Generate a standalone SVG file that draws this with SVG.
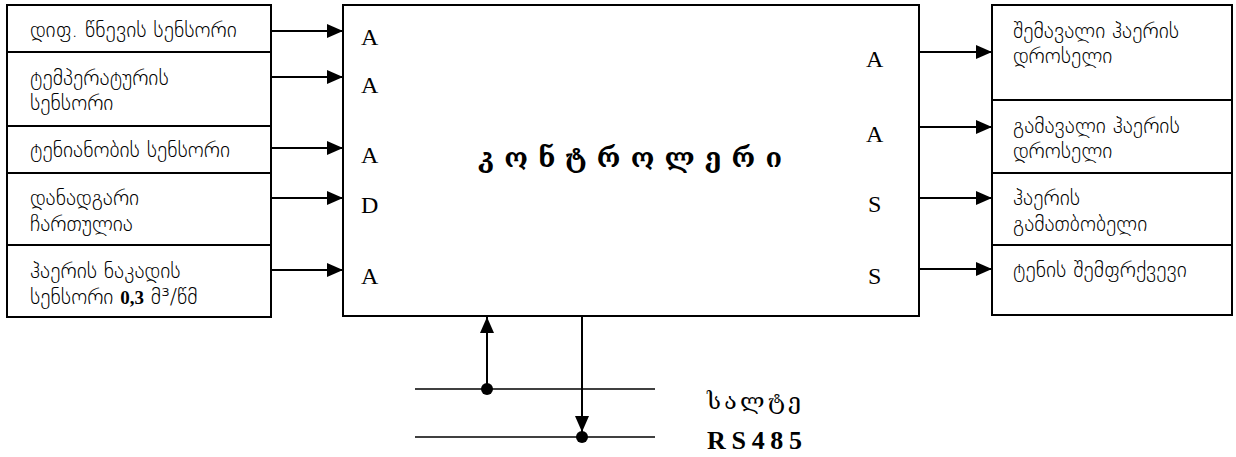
<svg xmlns="http://www.w3.org/2000/svg" width="1236" height="457" viewBox="0 0 1236 457">
  <defs>
    <marker id="arrow" viewBox="0 0 16 14" refX="16" refY="7" markerWidth="16" markerHeight="14" markerUnits="userSpaceOnUse" orient="auto">
      <path d="M0,0 L16,7 L0,14 Z" fill="#000"/>
    </marker>
    <style>
      .box { fill: #fff; stroke: #000; stroke-width: 2; }
      .lbl { font-family: "DejaVu Sans", sans-serif; font-size: 21.5px; font-weight: 200; fill: #000; }
      .num { font-family: "Liberation Serif", serif; font-weight: bold; font-size: 19px; }
      .port { font-family: "Liberation Serif", serif; font-size: 24px; fill: #000; }
      .title { font-family: "DejaVu Serif", "DejaVu Sans", serif; font-size: 27px; font-weight: bold; fill: #000; }
      .bus-name { font-family: "DejaVu Serif", "DejaVu Sans", serif; font-size: 23px; fill: #000; }
      .bus-code { font-family: "Liberation Serif", serif; font-size: 26px; font-weight: bold; fill: #000; }
      .wire { stroke: #000; stroke-width: 2; fill: none; }
      .bus { stroke: #000; stroke-width: 1.5; fill: none; }
    </style>
  </defs>

  <!-- sensor inputs -->
  <g id="in-diffpressure">
    <rect class="box" x="7" y="5" width="264" height="47"/>
    <text class="lbl" x="30" y="37">დიფ. წნევის სენსორი</text>
  </g>
  <g id="in-temperature">
    <rect class="box" x="7" y="52" width="264" height="74"/>
    <text class="lbl" x="30" y="85">ტემპერატურის</text>
    <text class="lbl" x="30" y="110">სენსორი</text>
  </g>
  <g id="in-humidity">
    <rect class="box" x="7" y="126" width="264" height="47"/>
    <text class="lbl" x="30" y="157">ტენიანობის სენსორი</text>
  </g>
  <g id="in-unit-on">
    <rect class="box" x="7" y="173" width="264" height="72"/>
    <text class="lbl" x="30" y="205">დანადგარი</text>
    <text class="lbl" x="30" y="231">ჩართულია</text>
  </g>
  <g id="in-airflow">
    <rect class="box" x="7" y="245" width="264" height="72"/>
    <text class="lbl" x="30" y="278">ჰაერის ნაკადის</text>
    <text class="lbl" x="30" y="304">სენსორი <tspan class="num">0,3</tspan> მ³/წმ</text>
  </g>

  <!-- controller -->
  <g id="controller">
    <rect class="box" x="343" y="5" width="576" height="311"/>
    <text class="port" x="361" y="45">A</text>
    <text class="port" x="361" y="93">A</text>
    <text class="port" x="361" y="163">A</text>
    <text class="port" x="361" y="213">D</text>
    <text class="port" x="361" y="284">A</text>
    <text class="port" x="866" y="67">A</text>
    <text class="port" x="866" y="142">A</text>
    <text class="port" x="868" y="212">S</text>
    <text class="port" x="868" y="284">S</text>
    <text class="title" x="478" y="167" textLength="304" lengthAdjust="spacing">კ ო ნ ტ რ ო ლ ე რ ი</text>
  </g>

  <!-- actuator outputs -->
  <g id="out-supply-damper">
    <rect class="box" x="992" y="5" width="240" height="95"/>
    <text class="lbl" x="1013" y="38">შემავალი ჰაერის</text>
    <text class="lbl" x="1013" y="63">დროსელი</text>
  </g>
  <g id="out-exhaust-damper">
    <rect class="box" x="992" y="100" width="240" height="73"/>
    <text class="lbl" x="1013" y="133">გამავალი ჰაერის</text>
    <text class="lbl" x="1013" y="158">დროსელი</text>
  </g>
  <g id="out-heater">
    <rect class="box" x="992" y="173" width="240" height="72"/>
    <text class="lbl" x="1013" y="205">ჰაერის</text>
    <text class="lbl" x="1013" y="231">გამათბობელი</text>
  </g>
  <g id="out-humidifier">
    <rect class="box" x="992" y="245" width="240" height="70"/>
    <text class="lbl" x="1013" y="277">ტენის შემფრქვევი</text>
  </g>

  <!-- RS485 bus -->
  <g id="bus-rs485">
    <line class="bus" x1="415" y1="389" x2="655" y2="389"/>
    <line class="bus" x1="415" y1="437" x2="655" y2="437"/>
    <text class="bus-name" x="707" y="409" textLength="94" lengthAdjust="spacing">ს ა ლ ტ ე</text>
    <text class="bus-code" x="707" y="449" textLength="95" lengthAdjust="spacing">R S 4 8 5</text>
  </g>

  <!-- connectors -->
  <g id="connectors">
    <line class="wire" x1="271" y1="31" x2="343" y2="31" marker-end="url(#arrow)"/>
    <line class="wire" x1="271" y1="77" x2="343" y2="77" marker-end="url(#arrow)"/>
    <line class="wire" x1="271" y1="148" x2="343" y2="148" marker-end="url(#arrow)"/>
    <line class="wire" x1="271" y1="198" x2="343" y2="198" marker-end="url(#arrow)"/>
    <line class="wire" x1="271" y1="270" x2="343" y2="270" marker-end="url(#arrow)"/>

    <line class="wire" x1="919" y1="52" x2="992" y2="52" marker-end="url(#arrow)"/>
    <line class="wire" x1="919" y1="127" x2="992" y2="127" marker-end="url(#arrow)"/>
    <line class="wire" x1="919" y1="198" x2="992" y2="198" marker-end="url(#arrow)"/>
    <line class="wire" x1="919" y1="269" x2="992" y2="269" marker-end="url(#arrow)"/>

    <line class="wire" x1="487" y1="389" x2="487" y2="317" marker-end="url(#arrow)"/>
    <circle cx="487" cy="389" r="6" fill="#000"/>
    <line class="wire" x1="582" y1="316" x2="582" y2="432" marker-end="url(#arrow)"/>
    <circle cx="582" cy="437" r="6" fill="#000"/>
  </g>
</svg>
